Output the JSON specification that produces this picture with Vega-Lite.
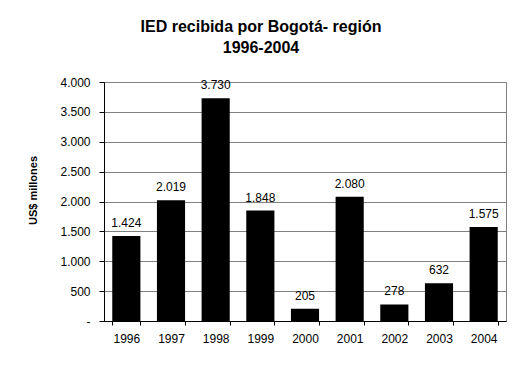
{
  "$schema": "https://vega.github.io/schema/vega-lite/v6.json",
  "width": 402,
  "height": 239,
  "autosize": {"type": "none"},
  "padding": {"left": 104, "top": 82, "right": 15, "bottom": 45},
  "background": "white",
  "title": {
    "text": ["IED recibida por Bogotá- región", "1996-2004"],
    "font": "Liberation Sans",
    "fontSize": 16,
    "fontWeight": "bold",
    "color": "black",
    "anchor": "middle",
    "dx": -44,
    "offset": 20,
    "lineHeight": 21
  },
  "data": {
    "values": [
      {"year": "1996", "value": 1424},
      {"year": "1997", "value": 2019},
      {"year": "1998", "value": 3730},
      {"year": "1999", "value": 1848},
      {"year": "2000", "value": 205},
      {"year": "2001", "value": 2080},
      {"year": "2002", "value": 278},
      {"year": "2003", "value": 632},
      {"year": "2004", "value": 1575}
    ]
  },
  "encoding": {
    "x": {
      "field": "year",
      "type": "ordinal",
      "scale": {"paddingInner": 0.37, "paddingOuter": 0.185},
      "axis": {
        "title": null,
        "labelAngle": 0,
        "tickBand": "extent",
        "tickSize": 4,
        "tickColor": "black",
        "domainColor": "black",
        "labelPadding": 8,
        "labelFont": "Liberation Sans",
        "labelFontSize": 12,
        "labelColor": "black"
      }
    },
    "y": {
      "field": "value",
      "type": "quantitative",
      "scale": {"domain": [0, 4000], "nice": false},
      "axis": {
        "title": "US$ millones",
        "titleFont": "Liberation Sans",
        "titleFontSize": 11,
        "titleFontWeight": "bold",
        "titleColor": "black",
        "titleX": -71,
        "titleY": 108,
        "titleAngle": 270,
        "titleAlign": "center",
        "titleBaseline": "middle",
        "values": [0, 500, 1000, 1500, 2000, 2500, 3000, 3500, 4000],
        "format": ",d",
        "labelExpr": "datum.value == 0 ? '-' : datum.label",
        "tickSize": 5,
        "tickColor": "black",
        "domainColor": "black",
        "labelPadding": 9,
        "labelFont": "Liberation Sans",
        "labelFontSize": 12,
        "labelColor": "black",
        "grid": true,
        "gridColor": "#808080",
        "gridOpacity": 1
      }
    }
  },
  "layer": [
    {"mark": {"type": "bar", "color": "black"}},
    {
      "mark": {"type": "text", "baseline": "bottom", "dy": -6, "font": "Liberation Sans", "fontSize": 12, "color": "black"},
      "encoding": {"text": {"field": "value", "type": "quantitative", "format": ",d"}}
    }
  ],
  "config": {
    "locale": {"number": {"decimal": ",", "thousands": ".", "grouping": [3], "currency": ["$", ""]}},
    "view": {"stroke": "#808080", "strokeWidth": 1}
  }
}
